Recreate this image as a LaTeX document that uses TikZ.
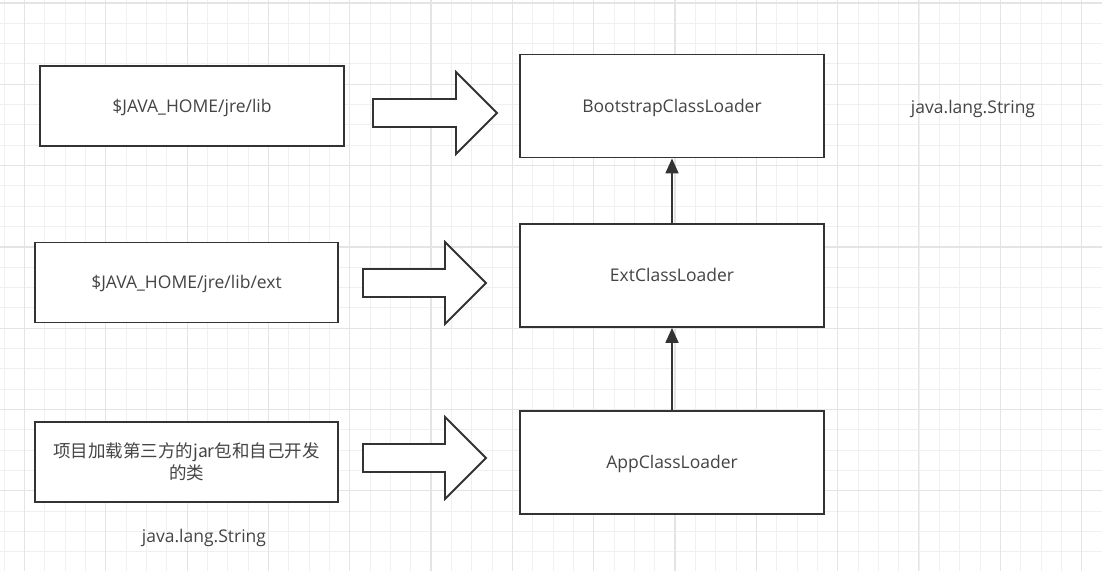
\documentclass[tikz,border=0pt]{standalone}
\usepackage{fontspec}
\setmainfont{Open Sans}
\newfontfamily\cjk{Noto Sans CJK SC}
\usetikzlibrary{arrows.meta}
\definecolor{ink}{HTML}{333333}
\definecolor{txt}{HTML}{444444}
\definecolor{gridminor}{HTML}{F0F0F0}
\definecolor{gridmajor}{HTML}{E4E4E4}
\tikzset{
  box/.style={draw=ink, line width=1.8pt, fill=white, rectangle, inner sep=0pt,
    text=txt, font=\fontsize{17.5}{22}\selectfont, align=center},
  onetext/.style={text height=13.5pt, text depth=1pt},
  srcbox/.style={box, minimum width=303pt, minimum height=80pt},
  loaderbox/.style={box, onetext, minimum width=304pt, minimum height=103pt},
  plain/.style={text=txt, font=\fontsize{17.5}{22}\selectfont, inner sep=0pt, onetext},
  blockarrow/.style={draw=ink, line width=1.8pt, fill=white, line join=miter},
  parentlink/.style={draw=ink, line width=1.8pt, -{Triangle[length=15pt,width=13pt]}}
}
\begin{document}
\begin{tikzpicture}[x=1pt,y=-1pt]
\useasboundingbox (0,0) rectangle (1102,571);
\fill[white] (0,0) rectangle (1102,571);
% grid
\foreach \i in {0,...,54} {
  \draw[gridminor, line width=1pt] ({4.2+20.33*\i},0) -- ({4.2+20.33*\i},571);
}
\foreach \i in {0,...,28} {
  \draw[gridminor, line width=1pt] (0,{3+20.33*\i}) -- (1102,{3+20.33*\i});
}
\foreach \i in {0,...,13} {
  \draw[gridmajor, line width=1.2pt] ({24.5+81.3*\i},0) -- ({24.5+81.3*\i},571);
}
\foreach \i in {0,...,7} {
  \draw[gridmajor, line width=1.2pt] (0,{3+81.3*\i}) -- (1102,{3+81.3*\i});
}
% source boxes
\node[srcbox, onetext, minimum width=304pt] (jrelib) at (192,106) {\$JAVA\_HOME/jre/lib};
\node[srcbox, onetext] (jreext) at (186.5,282.5) {\$JAVA\_HOME/jre/lib/ext};
\node[srcbox, font=\cjk\fontsize{17.5}{22.5}\selectfont] (proj) at (186.5,462)
  {项目加载第三方的jar包和自己开发\\的类};
% loaders
\node[loaderbox] (boot) at (672,106) {BootstrapClassLoader};
\node[loaderbox] (ext) at (672,275.5) {ExtClassLoader};
\node[loaderbox] (app) at (672,462.5) {AppClassLoader};
% labels
\node[plain] (str1) at (973,107) {java.lang.String};
\node[plain] (str2) at (204,536) {java.lang.String};
% block arrows
\foreach \xl/\yc/\tip in {373/113/497, 363/283/486, 363/458/486} {
  \draw[blockarrow] (\xl,\yc-14) -- (\tip-41,\yc-14) -- (\tip-41,\yc-41) -- (\tip,\yc)
     -- (\tip-41,\yc+41) -- (\tip-41,\yc+14) -- (\xl,\yc+14) -- cycle;
}
% parent links
\draw[parentlink] (ext.north) -- (boot.south);
\draw[parentlink] (app.north) -- (ext.south);
\end{tikzpicture}
\end{document}
